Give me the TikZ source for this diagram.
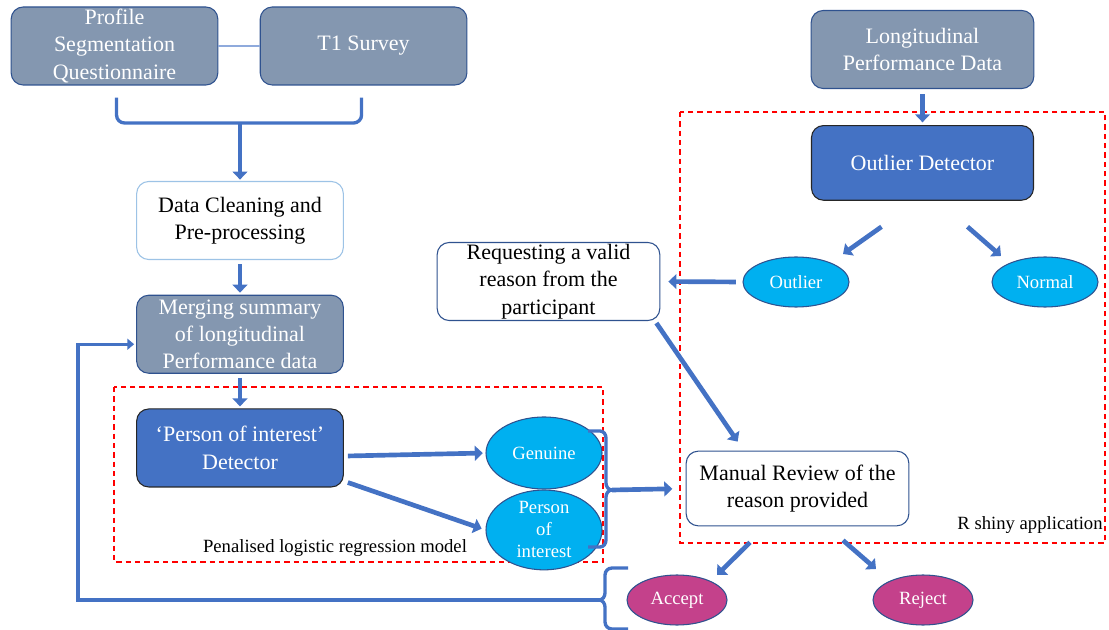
\documentclass[tikz,border=0pt]{standalone}
\usepackage{fontspec}
\setmainfont{Liberation Serif}
\usetikzlibrary{shapes,shapes.geometric}
\usetikzlibrary{arrows.meta}
\usetikzlibrary{positioning,calc}
\definecolor{slategrey}{HTML}{8497B0}
\definecolor{slateedge}{HTML}{2F528F}
\definecolor{accentblue}{HTML}{4472C4}
\definecolor{skycyan}{HTML}{00B0F0}
\definecolor{rosepink}{HTML}{C4418B}
\definecolor{paleblue}{HTML}{9DC3E6}
\definecolor{linkblue}{HTML}{8FAADC}

\begin{document}
\begin{tikzpicture}[x=0.75pt,y=-0.75pt]
\tikzset{greybox/.style={rectangle,rounded corners=9pt,draw=slateedge,fill=slategrey,text=white,align=center,minimum width=155pt,minimum height=58.5pt,inner sep=0pt,thick,font=\fontsize{16.5}{20.5}\selectfont}}
\tikzset{bluebox/.style={greybox,fill=accentblue,draw=black!85}}
\tikzset{whitebox/.style={greybox,fill=white,text=black,draw=slateedge}}
\tikzset{cyanoval/.style={ellipse,draw=slateedge,fill=skycyan,text=white,thick,inner sep=0pt,align=center,minimum width=87pt,minimum height=54pt,font=\fontsize{14}{16.5}\selectfont}}
\tikzset{pinkoval/.style={cyanoval,fill=rosepink,minimum width=75pt,minimum height=37.5pt}}
\tikzset{notelabel/.style={inner sep=0pt,font=\fontsize{14}{16}\selectfont}}
\tikzset{flowarrow/.style={draw=accentblue,line width=3.5pt,-{Triangle[length=6pt,width=11pt]}}}
\tikzset{bracketline/.style={draw=accentblue,line width=2.5pt}}
\tikzset{looparrow/.style={bracketline,-{Triangle[length=5pt,width=8pt]}}}
\tikzset{thinlink/.style={draw=linkblue,line width=0.8pt}}
\tikzset{redzone/.style={draw=red,line width=1.5pt,dash pattern=on 4pt off 3pt}}
\useasboundingbox (0,0) rectangle (1109,630);

% sources
\node[greybox](profile) at (114.5,46){Profile\\Segmentation\\Questionnaire};
\node[greybox](survey)[right=31pt of profile]{T1 Survey};
\draw[thinlink](profile) -- (survey);
\coordinate (joinpt) at (240,123);
\draw[bracketline,rounded corners=6pt]($(profile.south)+(2,12)$) |- (joinpt) -| ($(survey.south)+(-2,12)$);

% left column
\node[whitebox,draw=paleblue](cleaning) at (240,220.5){Data Cleaning and\\Pre-processing};
\draw[flowarrow,shorten >=1pt](joinpt) -- (cleaning.north);
\node[greybox](merging)[below=26pt of cleaning]{Merging summary\\of longitudinal\\Performance data};
\draw[flowarrow,shorten <=3pt,shorten >=1.5pt](cleaning) -- (merging);
\node[bluebox](poidet)[below=26pt of merging]{‘Person of interest’\\Detector};
\draw[flowarrow,shorten <=3pt,shorten >=1.5pt](merging) -- (poidet);

% model zone
\draw[redzone](114,387) rectangle (603,562);
\node[notelabel](penallabel) at (335,548){Penalised logistic regression model};
\node[cyanoval](genuine) at (544,453){Genuine};
\node[cyanoval](person)[below=0pt of genuine]{Person\\of\\interest};
\draw[flowarrow,shorten >=2pt]($(poidet.east)+(4,8)$) -- (genuine.west);
\draw[flowarrow,shorten >=3pt]($(poidet.south east)+(4,-5)$) -- (person.west);
\draw[bracketline](588,431) -- (600,431) to[out=0,in=90] (606,438) -- (606,483) to[out=-90,in=180] (612,490)
  to[out=180,in=90] (606,497) -- (606,540) to[out=-90,in=0] (600,547) -- (588,547);
\coordinate (poicusp) at (612,490);

% outlier zone
\node[greybox,minimum width=167pt](longdata) at (922.5,49.5){Longitudinal\\Performance Data};
\draw[redzone](680,112) rectangle (1105,543);
\node[bluebox,minimum width=166.5pt,minimum height=56pt](outdet)[below=27pt of longdata]{Outlier Detector};
\draw[flowarrow,shorten <=4pt,shorten >=2pt](longdata) -- (outdet);
\node[cyanoval,minimum width=79.5pt,minimum height=37.5pt](outlier) at (796,282){Outlier};
\node[cyanoval,minimum width=79.5pt,minimum height=37.5pt](normal) at (1045,282){Normal};
\draw[flowarrow]($(outdet.south)+(-41,26)$) -- ($(outlier.center)+(47,-28)$);
\draw[flowarrow]($(outdet.south)+(45,26)$) -- ($(normal.center)+(-44,-26)$);
\node[whitebox,minimum width=167pt](request) at (548.5,281.5){Requesting a valid\\reason from the\\participant};
\draw[flowarrow,shorten <=5pt,shorten >=6pt](outlier.west) -- (request.east);
\node[whitebox,minimum width=167pt,minimum height=56pt](review) at (797.5,488.5){Manual Review of the\\reason provided};
\draw[flowarrow]($(request.south east)+(-4,2)$) -- ($(review.north west)+(52,-9)$);
\draw[flowarrow,shorten >=10pt](poicusp) -- (review.west);
\node[notelabel](shinylabel) at (1030,525){R shiny application};

% decisions
\node[pinkoval](accept) at (677,600){Accept};
\node[pinkoval](reject) at (923,600){Reject};
\draw[flowarrow]($(review.south)+(-47.5,16)$) -- ($(accept.center)+(40,-25)$);
\draw[flowarrow]($(review.south)+(45.5,14)$) -- ($(reject.center)+(-47,-31)$);
\draw[bracketline](628,568) -- (612,568) to[out=180,in=90] (605,575) -- (605,593) to[out=-90,in=0] (599,600)
  to[out=0,in=90] (605,607) -- (605,622) to[out=-90,in=180] (612,629) -- (628,629);
\coordinate (acceptcusp) at (599,600);
\coordinate (loopcorner) at (78,600);
\draw[looparrow](acceptcusp) -- (loopcorner) |- ($(merging.west)+(-2,10)$);
\end{tikzpicture}
\end{document}
